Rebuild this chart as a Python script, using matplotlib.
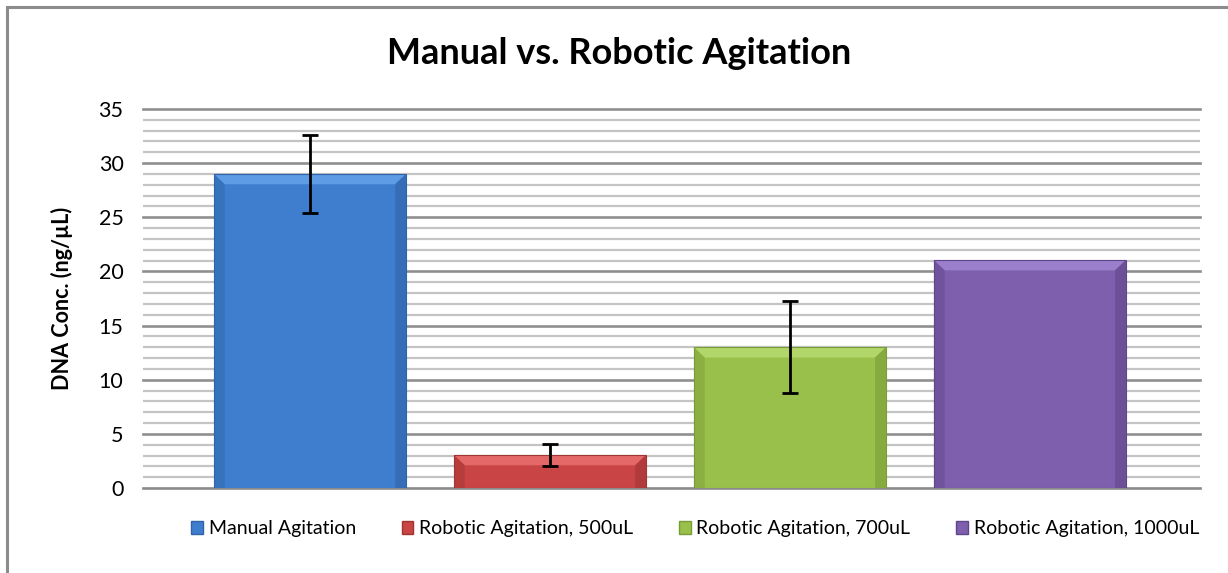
import matplotlib.pyplot as plt
from matplotlib.patches import Polygon, Rectangle, Patch
import numpy as np

plt.rcParams['font.family'] = ['Lato', 'DejaVu Sans']

labels = ["Manual Agitation", "Robotic Agitation, 500uL",
          "Robotic Agitation, 700uL", "Robotic Agitation, 1000uL"]
values = [29.0, 3.05, 13.0, 21.05]
errors = [3.6, 1.0, 4.25, None]
colors = ["#3F7ECF", "#C94444", "#99C04A", "#7E5FAD"]
lights = ["#5E9CE6", "#E56868", "#B3D66A", "#9C7FCC"]
darks = ["#2F64A8", "#A23434", "#7A9C36", "#5F4589"]

fig = plt.figure(figsize=(12.28, 5.73), dpi=100)
ax = fig.add_axes([0.1164, 0.1483, 0.8606, 0.6615])

x = np.arange(len(values))
w = 0.80
ax.set_xlim(-0.696, 3.708)
ax.set_ylim(0, 35)

# grid lines, minor every 1, major every 5
for yy in range(1, 36):
    if yy % 5 == 0:
        ax.axhline(yy, color="#8f8f8f", lw=1.9, zorder=0, clip_on=False)
    else:
        ax.axhline(yy, color="#c4c4c4", lw=1.6, zorder=0)
ax.axhline(0, color="#8a8a8a", lw=1.9, zorder=0, clip_on=False)

bars = ax.bar(x, values, width=w, color=colors, zorder=2, edgecolor="none")

# bevel look
bx = 0.045
by = 0.95
for i, b in enumerate(bars):
    x0 = b.get_x()
    x1 = x0 + b.get_width()
    h = b.get_height()
    top = Polygon([[x0, h], [x1, h], [x1 - bx, h - by], [x0 + bx, h - by]],
                  closed=True, color=lights[i], zorder=3, lw=0)
    left = Polygon([[x0, 0], [x0, h], [x0 + bx, h - by], [x0 + bx, 0]],
                   closed=True, color=darks[i], alpha=0.45, zorder=3, lw=0)
    right = Polygon([[x1, 0], [x1, h], [x1 - bx, h - by], [x1 - bx, 0]],
                    closed=True, color=darks[i], alpha=0.6, zorder=3, lw=0)
    ax.add_patch(top)
    ax.add_patch(left)
    ax.add_patch(right)
    ax.add_patch(Rectangle((x0, 0), b.get_width(), h, fill=False,
                           edgecolor=darks[i], lw=0.8, zorder=4))

for i in range(len(values)):
    if errors[i] is not None:
        ax.errorbar(x[i], values[i], yerr=errors[i], fmt="none", ecolor="black",
                    elinewidth=2, capsize=6, capthick=2, zorder=5)

ax.set_yticks(range(0, 36, 5))
ax.set_xticks([])
ax.tick_params(axis="y", length=0, labelsize=15.5, pad=14)
for s in ax.spines.values():
    s.set_visible(False)
ax.set_ylabel("DNA Conc. (ng/µL)", fontsize=15.5, fontweight="bold", labelpad=18)

fig.text(0.504, 0.907, "Manual vs. Robotic Agitation", ha="center", va="center",
         fontsize=26, fontweight="bold")

handles = [Patch(facecolor=colors[i], edgecolor=darks[i]) for i in range(4)]
fig.legend(handles, labels, loc="center", bbox_to_anchor=(0.566, 0.077), ncol=4,
           frameon=False, fontsize=14, handlelength=0.6, handleheight=0.6,
           handletextpad=0.3, columnspacing=2.35)

# chart border
fig.patches.append(Rectangle((7 / 1228, -0.1), 1.2, 1 - 7 / 573 + 0.1,
                             transform=fig.transFigure, fill=False,
                             edgecolor="#8c8c8c", lw=2.2))

fig.savefig("out.png", dpi=100)
